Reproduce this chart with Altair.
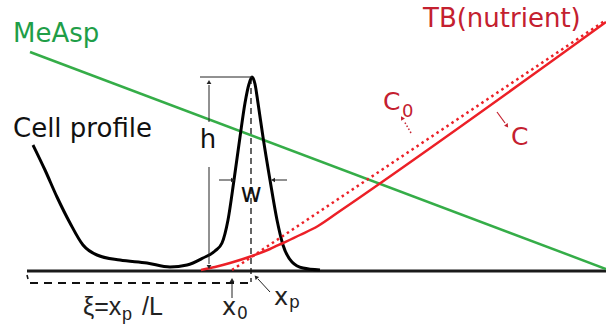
import altair as alt
import pandas as pd
import math

# ---- schematic data (pixel-like units, y grows downward) ----
cell_x = [33, 45, 57, 70, 83, 97, 120, 147, 170, 187, 203, 215, 222, 228, 234, 240, 245, 249, 252, 255, 258, 263, 270, 277, 283, 292, 303, 320]
cell_y = [145, 170, 197, 223, 245, 255, 260, 263, 267, 265, 258, 251, 243, 220, 180, 137, 103, 84, 77, 84, 103, 137, 180, 220, 245, 262, 268, 270]

tb_x = [201, 215, 230, 252, 270, 283, 300, 318, 340, 606]
tb_y = [270, 267, 263, 256, 249, 243, 235, 226, 211, 22]

tb0_x = [232, 606]
tb0_y = [270, 20]

measp_x = [30, 606]
measp_y = [52, 269]

# thin black guide segments: x, y, x2, y2
seg_x1 = [200, 209, 209, 219, 287, 232, 270]
seg_y1 = [77, 122, 167, 180, 180, 298, 292]
seg_x2 = [252, 209, 209, 231, 275, 232, 258]
seg_y2 = [77, 85, 264, 180, 180, 283, 279]

# arrowheads: position and direction
head_x = [209, 209, 233, 273, 232, 256]
head_y = [82, 267, 180, 180, 280, 277]
head_dx = [0, 0, 1, -1, 0, -12]
head_dy = [-1, 1, 0, 0, -1, -13]

# red arrows near C and C0
c_arrow = [497, 112, 505, 123]
c_head = [507, 126, 10, 14]
c0_arrow = [411, 133, 404, 121]
c0_head = [402, 118, -9, -15]

# texts
labels = ["MeAsp", "Cell profile", "TB(nutrient)", "h", "w"]
label_x = [13, 13, 423, 208, 251]
label_y = [42, 137, 27, 148, 202]
label_col = ["#1f9e48", "#111111", "#c4202f", "#111111", "#111111"]
label_align = ["left", "left", "left", "center", "center"]

xs = alt.Scale(domain=[0, 606])
ys = alt.Scale(domain=[0, 326], reverse=True)
FONT = "DejaVu Sans"
FONT2 = "Liberation Sans"


def X(f="x"):
    return alt.X(f"{f}:Q", scale=xs, axis=None)


def Y(f="y"):
    return alt.Y(f"{f}:Q", scale=ys, axis=None)


def ang(dx, dy):
    a = math.degrees(math.atan2(dx, -dy))
    return a % 360


layers = []

# baseline and dashed xi line
base = pd.DataFrame({"x": [27], "y": [271], "x2": [606], "y2": [271]})
layers.append(alt.Chart(base).mark_rule(color="#1a1a1a", strokeWidth=3).encode(
    x=X(), y=Y(), x2="x2:Q", y2="y2:Q"))
dash = pd.DataFrame({"x": [30], "y": [283], "x2": [250], "y2": [283]})
layers.append(alt.Chart(dash).mark_rule(color="#111111", strokeWidth=2, strokeDash=[8, 6]).encode(
    x=X(), y=Y(), x2="x2:Q", y2="y2:Q"))
tick = pd.DataFrame({"x": [27], "y": [275], "x2": [28], "y2": [279]})
layers.append(alt.Chart(tick).mark_rule(color="#111111", strokeWidth=1.5).encode(
    x=X(), y=Y(), x2="x2:Q", y2="y2:Q"))
vdash = pd.DataFrame({"x": [251], "y": [78], "x2": [251], "y2": [282]})
layers.append(alt.Chart(vdash).mark_rule(color="#111111", strokeWidth=1.3, strokeDash=[6, 4]).encode(
    x=X(), y=Y(), x2="x2:Q", y2="y2:Q"))

# MeAsp line
layers.append(alt.Chart(pd.DataFrame({"x": measp_x, "y": measp_y})).mark_line(
    color="#35ad48", strokeWidth=2.5).encode(x=X(), y=Y()))

# cell profile
layers.append(alt.Chart(pd.DataFrame({"x": cell_x, "y": cell_y, "o": range(len(cell_x))})).mark_line(
    color="#000000", strokeWidth=3, interpolate="monotone").encode(x=X(), y=Y(), order="o:Q"))

# TB dotted (C0)
layers.append(alt.Chart(pd.DataFrame({"x": tb0_x, "y": tb0_y})).mark_line(
    color="#ec2027", strokeWidth=2.5, strokeDash=[2.5, 3.5]).encode(x=X(), y=Y()))
# TB solid (C)
layers.append(alt.Chart(pd.DataFrame({"x": tb_x, "y": tb_y, "o": range(len(tb_x))})).mark_line(
    color="#ec2027", strokeWidth=2.5, interpolate="monotone").encode(x=X(), y=Y(), order="o:Q"))

# thin guide segments
segs = pd.DataFrame({"x": seg_x1, "y": seg_y1, "x2": seg_x2, "y2": seg_y2})
layers.append(alt.Chart(segs).mark_rule(color="#222222", strokeWidth=1).encode(
    x=X(), y=Y(), x2="x2:Q", y2="y2:Q"))
heads = pd.DataFrame({"x": head_x, "y": head_y,
                      "a": [ang(dx, dy) for dx, dy in zip(head_dx, head_dy)]})
layers.append(alt.Chart(heads).mark_point(shape="triangle-up", filled=True, color="#222222",
                                          size=22, opacity=1).encode(
    x=X(), y=Y(), angle=alt.Angle("a:Q", scale=None)))

# red arrows
ca = pd.DataFrame({"x": [c_arrow[0]], "y": [c_arrow[1]], "x2": [c_arrow[2]], "y2": [c_arrow[3]]})
layers.append(alt.Chart(ca).mark_rule(color="#c4202f", strokeWidth=1.2).encode(
    x=X(), y=Y(), x2="x2:Q", y2="y2:Q"))
c0a = pd.DataFrame({"x": [c0_arrow[0]], "y": [c0_arrow[1]], "x2": [c0_arrow[2]], "y2": [c0_arrow[3]]})
layers.append(alt.Chart(c0a).mark_rule(color="#c4202f", strokeWidth=1.5, strokeDash=[1.5, 2]).encode(
    x=X(), y=Y(), x2="x2:Q", y2="y2:Q"))
rh = pd.DataFrame({"x": [c_head[0], c0_head[0]], "y": [c_head[1], c0_head[1]],
                   "a": [ang(c_head[2], c_head[3]), ang(c0_head[2], c0_head[3])]})
layers.append(alt.Chart(rh).mark_point(shape="triangle-up", filled=True, color="#c4202f",
                                       size=20, opacity=1).encode(
    x=X(), y=Y(), angle=alt.Angle("a:Q", scale=None)))

# main labels
for t, lx, ly, c, al in zip(labels, label_x, label_y, label_col, label_align):
    layers.append(alt.Chart(pd.DataFrame({"x": [lx], "y": [ly], "t": [t]})).mark_text(
        font=FONT, fontSize=26, color=c, align=al, baseline="alphabetic").encode(
        x=X(), y=Y(), text="t:N"))

# labels with subscripts: (text, x, y, size, color, font)
sub_text = ["C", "0", "C", "x", "0", "x", "p", "ξ=x", "p", "/L"]
sub_x = [383, 402, 511, 222, 237, 274, 289, 83, 122, 142]
sub_y = [110, 117, 145, 315, 319, 305, 308, 315, 320, 315]
sub_size = [25, 18, 25, 24, 17, 24, 17, 25, 18, 25]
sub_col = ["#c4202f", "#c4202f", "#c4202f", "#222222", "#222222", "#222222", "#222222",
           "#222222", "#222222", "#222222"]
sub_font = [FONT, FONT, FONT, FONT, FONT, FONT, FONT, FONT2, FONT2, FONT2]
for t, lx, ly, s, c, f in zip(sub_text, sub_x, sub_y, sub_size, sub_col, sub_font):
    layers.append(alt.Chart(pd.DataFrame({"x": [lx], "y": [ly], "t": [t]})).mark_text(
        font=f, fontSize=s, color=c, align="left", baseline="alphabetic").encode(
        x=X(), y=Y(), text="t:N"))

chart = alt.layer(*layers).properties(
    width=606, height=326, padding=0, autosize=alt.AutoSizeParams(type="none"),
    background="white"
).configure_view(stroke=None)

chart.save("out.html", embed_options={"renderer": "svg", "actions": False})
